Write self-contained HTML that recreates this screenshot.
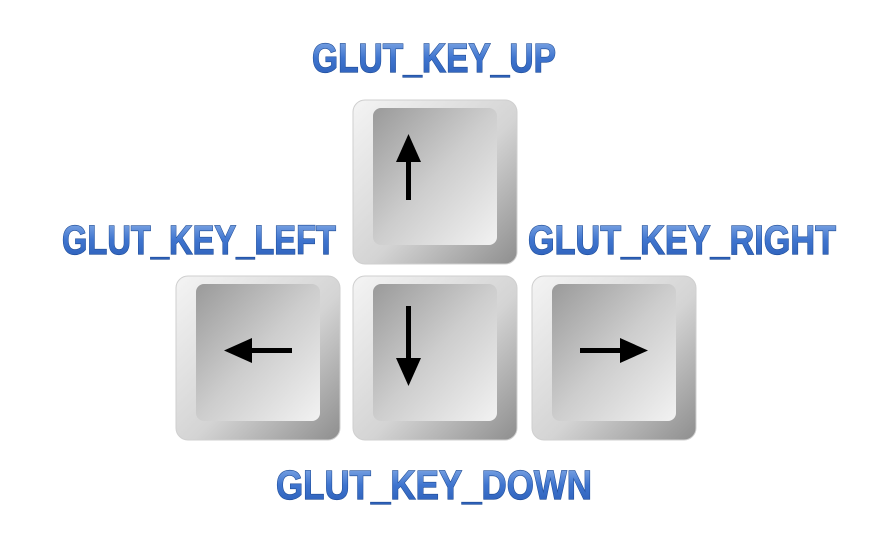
<!DOCTYPE html>
<html><head><meta charset="utf-8"><style>
html,body{margin:0;padding:0;background:#fff;width:881px;height:539px;overflow:hidden}
svg text{font-family:"Liberation Sans",sans-serif;font-weight:bold;font-size:41px;fill:url(#txt);stroke:#1d4a94;stroke-width:1.2px;paint-order:stroke}
</style></head><body>
<svg width="881" height="539" viewBox="0 0 881 539">
<defs>
<linearGradient id="txt" x1="0" y1="0" x2="0" y2="1"><stop offset="0" stop-color="#8fb3ea"/><stop offset="0.5" stop-color="#3f75cf"/><stop offset="1" stop-color="#2a5cb5"/></linearGradient>
<linearGradient id="outer" x1="0" y1="0" x2="1" y2="1"><stop offset="0" stop-color="#f4f4f4"/><stop offset="0.55" stop-color="#d4d4d4"/><stop offset="1" stop-color="#8e8e8e"/></linearGradient>
<linearGradient id="face" x1="0" y1="0" x2="1" y2="1"><stop offset="0" stop-color="#9a9a9a"/><stop offset="0.5" stop-color="#cdcdcd"/><stop offset="1" stop-color="#f2f2f2"/></linearGradient>
<g id="key"><rect x="0" y="0" width="164" height="164" rx="12" fill="url(#outer)" stroke="#cfcfcf" stroke-width="1"/><rect x="20" y="8" width="124" height="137" rx="8" fill="url(#face)"/></g>
</defs>
<text x="312" y="72" textLength="244" lengthAdjust="spacingAndGlyphs">GLUT_KEY_UP</text>
<text x="62" y="254" textLength="274" lengthAdjust="spacingAndGlyphs">GLUT_KEY_LEFT</text>
<text x="528" y="254" textLength="308" lengthAdjust="spacingAndGlyphs">GLUT_KEY_RIGHT</text>
<text x="276" y="499" textLength="316" lengthAdjust="spacingAndGlyphs">GLUT_KEY_DOWN</text>

<g transform="translate(353,100)"><use href="#key"/>
<rect x="53" y="55" width="5" height="45" fill="#000"/><polygon points="55.5,34 43,62 68,62" fill="#000"/></g>
<g transform="translate(176,276)"><use href="#key"/>
<rect x="72" y="72" width="44" height="5" fill="#000"/><polygon points="48,74.5 76,62 76,87" fill="#000"/></g>
<g transform="translate(353,276)"><use href="#key"/>
<rect x="53" y="30" width="5" height="55" fill="#000"/><polygon points="55.5,110 43,82 68,82" fill="#000"/></g>
<g transform="translate(532,276)"><use href="#key"/>
<rect x="48" y="72" width="44" height="5" fill="#000"/><polygon points="116,74.5 88,62 88,87" fill="#000"/></g>
</svg>
</body></html>
